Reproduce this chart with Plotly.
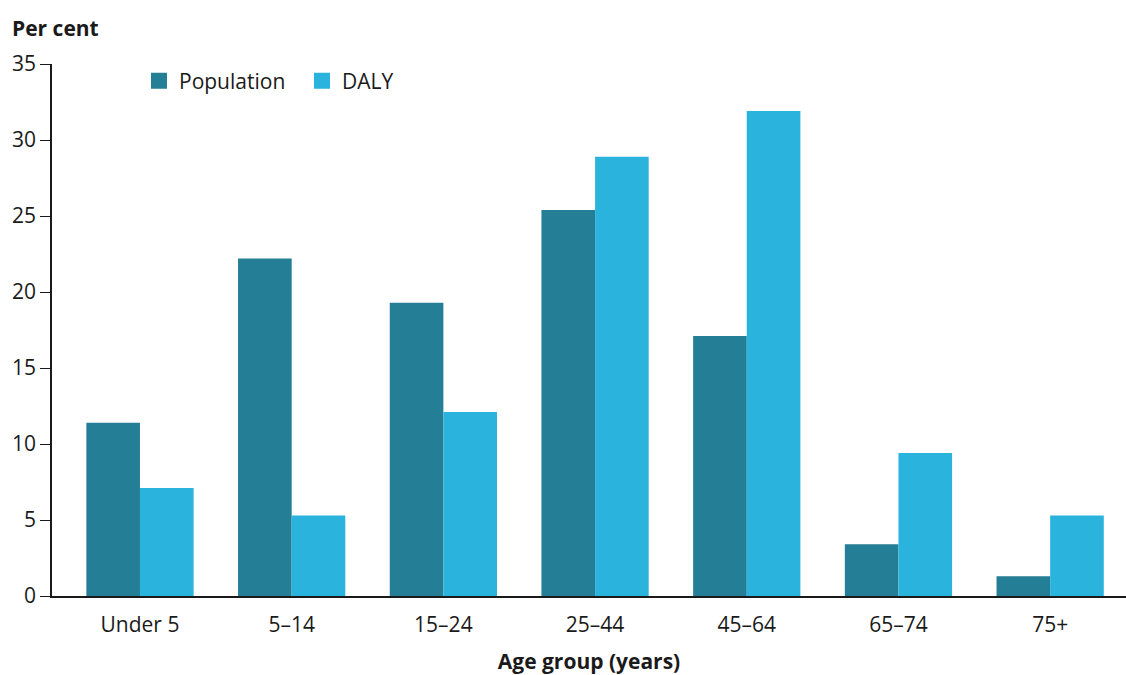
import plotly.graph_objects as go

categories = ["Under 5", "5–14", "15–24", "25–44", "45–64", "65–74", "75+"]
population = [11.4, 22.2, 19.3, 25.4, 17.1, 3.4, 1.3]
daly = [7.1, 5.3, 12.1, 28.9, 31.9, 9.4, 5.3]
y_ticks = [0, 5, 10, 15, 20, 25, 30, 35]
series_names = ["Population", "DALY"]
series_colors = ["#237e96", "#29b3dd"]

FONT = "Open Sans, Noto Sans, sans-serif"
FS = 21

fig = go.Figure()
for name, vals, col in zip(series_names, [population, daly], series_colors):
    fig.add_bar(x=categories, y=vals, name=name, showlegend=False,
                marker=dict(color=col, line=dict(width=0)))
# legend-only entries with larger square swatches
for name, col in zip(series_names, series_colors):
    fig.add_scatter(x=[None], y=[None], mode="markers", name=name,
                    marker=dict(symbol="square", size=16, color=col))

fig.update_layout(
    width=1126, height=675,
    margin=dict(l=52, r=0, t=64, b=79, autoexpand=False),
    paper_bgcolor="white", plot_bgcolor="white",
    barmode="group", bargap=0.293, bargroupgap=0,
    font=dict(family=FONT, size=FS, color="#1a1a1a"),
    showlegend=True,
    legend=dict(orientation="h", x=0.081, y=(596 - 81) / 532, xanchor="left", yanchor="middle",
                font=dict(size=FS), bgcolor="rgba(0,0,0,0)", itemsizing="trace",
                entrywidth=118, entrywidthmode="pixels"),
    xaxis=dict(range=[-0.58, 6.5], showline=True, linecolor="#1a1a1a", linewidth=1.5,
               ticks="", showgrid=False, tickfont=dict(size=FS), automargin=False,
               ticklabelstandoff=9,
               title=dict(text="<b>Age group (years)</b>", font=dict(size=FS), standoff=25)),
    yaxis=dict(range=[0, 35], tickvals=y_ticks, showline=True, linecolor="#1a1a1a", linewidth=1.5,
               ticks="outside", ticklen=10, tickcolor="#1a1a1a", showgrid=False, zeroline=False,
               tickfont=dict(size=FS), automargin=False),
)
fig.add_annotation(text="<b>Per cent</b>", xref="paper", yref="paper",
                   x=-42 / 1074, y=1 + 36 / 532, xanchor="left", yanchor="middle",
                   showarrow=False, font=dict(size=FS))

fig.write_html("out.html", config={"displayModeBar": False},
               post_script="document.body.style.margin='0';")
